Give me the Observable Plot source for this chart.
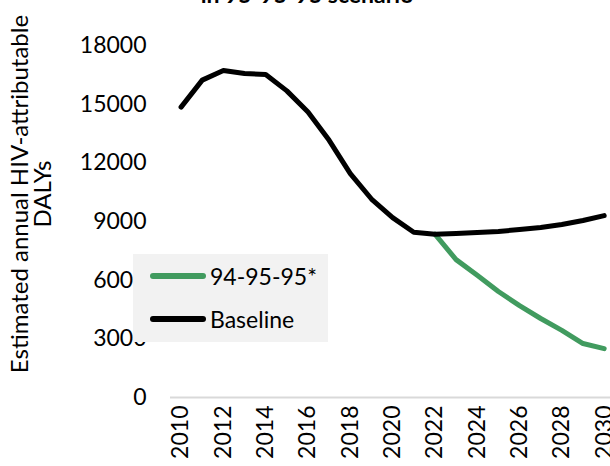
<!DOCTYPE html>
<html>
<head>
<meta charset="utf-8">
<script src="https://cdn.jsdelivr.net/npm/d3@7"></script>
<script src="https://cdn.jsdelivr.net/npm/@observablehq/plot@0.6"></script>
<style>
  html, body { margin: 0; padding: 0; background: #fff; overflow: hidden; }
  #wrap { position: relative; width: 610px; height: 466px; font-family: Lato, sans-serif; color: #000; }
  #title { position: absolute; left: 0; width: 614px; text-align: center; top: -17px; font-weight: bold; font-size: 23px; line-height: 23px; white-space: nowrap; }
  #ylab { position: absolute; left: 30px; top: 194px; width: 0; height: 0; }
  #ylab div { position: absolute; transform: translate(-50%, -50%) rotate(-90deg); white-space: nowrap; font-size: 24px; line-height: 23px; text-align: center; }
  #legend { position: absolute; left: 133px; top: 254px; width: 195px; height: 88px; background: #f2f2f2; font-size: 23px; }
  .item { position: absolute; left: 17px; height: 26px; display: flex; align-items: center; }
  .sw { width: 56px; height: 6px; border-radius: 3px; margin-right: 4px; }
</style>
</head>
<body>
<div id="wrap">
  <div id="chart"></div>
  <div id="title">in 95-95-95 scenario</div>
  <div id="ylab"><div>Estimated annual HIV-attributable<br>DALYs</div></div>
  <div id="legend"></div>
</div>
<script>
const years = [2010,2011,2012,2013,2014,2015,2016,2017,2018,2019,2020,2021,2022,2023,2024,2025,2026,2027,2028,2029,2030];
const baseline = [14850,16230,16720,16570,16520,15680,14600,13150,11450,10150,9200,8450,8350,8390,8440,8490,8590,8690,8850,9050,9300];
const scenarioYears = [2022,2023,2024,2025,2026,2027,2028,2029,2030];
const scenario = [8350,7050,6250,5420,4700,4040,3430,2760,2500];
const yTicks = [0,3000,6000,9000,12000,15000,18000];
const xTicks = [2010,2012,2014,2016,2018,2020,2022,2024,2026,2028,2030];
const seriesNames = ["94-95-95*","Baseline"];
const seriesColors = ["#419b5f","#000000"];

const baseData = years.map((y,i) => ({year: y, value: baseline[i]}));
const scenData = scenarioYears.map((y,i) => ({year: y, value: scenario[i]}));

const chart = Plot.plot({
  width: 610,
  height: 466,
  marginLeft: 170,
  marginRight: 0,
  marginTop: 45,
  marginBottom: 69,
  style: {fontFamily: "Lato, sans-serif", fontSize: "23px", color: "#000", background: "transparent", overflow: "visible"},
  x: {domain: [2009.5, 2030.3], ticks: xTicks, tickFormat: d => String(d), tickRotate: -90, tickSize: 0, tickPadding: 8, label: null},
  y: {domain: [0, 18000], ticks: yTicks, tickFormat: d => String(d), tickSize: 0, tickPadding: 24, label: null},
  marks: [
    Plot.ruleY([0], {stroke: "#d9d9d9", strokeWidth: 2}),
    Plot.line(scenData, {x: "year", y: "value", stroke: seriesColors[0], strokeWidth: 5, strokeLinecap: "round", strokeLinejoin: "round"}),
    Plot.line(baseData, {x: "year", y: "value", stroke: seriesColors[1], strokeWidth: 5, strokeLinecap: "round", strokeLinejoin: "round"})
  ]
});
document.getElementById("chart").appendChild(chart);

const legend = document.getElementById("legend");
seriesNames.forEach((name, i) => {
  const it = document.createElement("div");
  it.className = "item";
  it.style.top = (i === 0 ? 9 : 52) + "px";
  const sw = document.createElement("div");
  sw.className = "sw";
  sw.style.background = seriesColors[i];
  const tx = document.createElement("span");
  tx.textContent = name;
  it.appendChild(sw); it.appendChild(tx);
  legend.appendChild(it);
});
</script>
</body>
</html>
